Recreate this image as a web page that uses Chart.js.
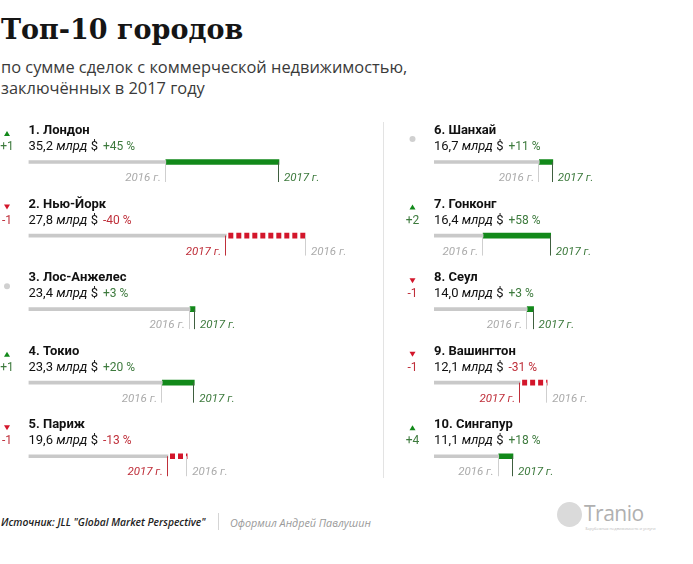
<!DOCTYPE html>
<html>
<head>
<meta charset="utf-8">
<script src="https://cdn.jsdelivr.net/npm/chart.js@4.4.1/dist/chart.umd.min.js"></script>
<style>
  body { margin: 0; width: 693px; height: 564px; background: #fff; position: relative; overflow: hidden; font-family: "Open Sans", sans-serif; }
  #title { position: absolute; left: 1px; top: 13px; font: bold 27px "DejaVu Serif", serif; line-height: 34px; color: #151515; white-space: nowrap; }
  #subtitle { position: absolute; left: 1px; top: 56px; font-size: 16.4px; line-height: 21px; color: #3a3a3a; white-space: nowrap; }
  #divider { position: absolute; left: 383px; top: 122px; width: 1px; height: 356px; background: #e3e3e3; }
  #left { position: absolute; left: 0; top: 100px; }
  #right { position: absolute; left: 380px; top: 100px; }
  #source { position: absolute; left: 1px; top: 515px; font: italic 600 10.3px "Open Sans", sans-serif; color: #222; white-space: nowrap; }
  #sep { position: absolute; left: 218px; top: 513px; width: 1px; height: 17px; background: #d5d5d5; }
  #author { position: absolute; left: 230px; top: 515px; font: italic 10.8px "Open Sans", sans-serif; color: #9a9a9a; white-space: nowrap; }
  #logoDot { position: absolute; left: 557px; top: 502px; width: 25px; height: 25px; border-radius: 50%; background: #dadada; }
  #logo { position: absolute; left: 584px; top: 499px; font: 21px "Open Sans", sans-serif; color: #b0b0b0; letter-spacing: -0.5px; }
  #tag { position: absolute; left: 585px; top: 526px; font: 4px "Open Sans", sans-serif; color: #bbb; white-space: nowrap; }
</style>
</head>
<body>
<div id="title">Топ-10 городов</div>
<div id="subtitle">по сумме сделок с коммерческой недвижимостью,<br>заключённых в 2017 году</div>
<div id="divider"></div>
<canvas id="left" width="380" height="393"></canvas>
<canvas id="right" width="313" height="393"></canvas>
<div id="source">Источник: JLL "Global Market Perspective"</div>
<div id="sep"></div>
<div id="author">Оформил Андрей Павлушин</div>
<div id="logoDot"></div>
<div id="logo">Tranio</div>
<div id="tag">Зарубежная недвижимость и услуги</div>
<script>
// data
const cities = ["Лондон", "Нью-Йорк", "Лос-Анжелес", "Токио", "Париж", "Шанхай", "Гонконг", "Сеул", "Вашингтон", "Сингапур"];
const rankShift = [1, -1, 0, 1, -1, 0, 2, -1, -1, 4];
const deals2017 = [35.2, 27.8, 23.4, 23.3, 19.6, 16.7, 16.4, 14.0, 12.1, 11.1];
const deals2016 = [19.3, 39.0, 22.7, 18.8, 22.3, 14.8, 6.9, 13.1, 15.9, 9.1];
const changePct = [45, -40, 3, 20, -13, 11, 58, 3, -31, 18];
const yearLabels = ["2016 г.", "2017 г."];

const GRAY = "#c9c9c9";
const GREEN = "#12891a";
const RED = "#d3162b";
const GREEN_TXT = "#3d7a3d";
const RED_TXT = "#bf2f3a";
const FONT = "Roboto";

function fmt(v) {
  return v.toFixed(1).replace(".", ",");
}

// red dotted segment for a fall
function redDots(ctx, startX) {
  const pc = document.createElement("canvas");
  pc.width = 8;
  pc.height = 8;
  const p = pc.getContext("2d");
  p.fillStyle = RED;
  p.fillRect(2, 0, 5, 8);
  const pat = ctx.createPattern(pc, "repeat");
  pat.setTransform(new DOMMatrix().translate(startX, 0));
  return pat;
}

const rowText = {
  id: "rowText",
  afterDatasetsDraw(chart, args, opts) {
    const ctx = chart.ctx;
    const x = chart.scales.x;
    const y = chart.scales.y;
    ctx.save();
    for (let k = 0; k < 5; k++) {
      const i = opts.start + k;
      const yc = y.getPixelForValue(k);
      const x0 = x.getPixelForValue(0);
      const x16 = x.getPixelForValue(deals2016[i]);
      const x17 = x.getPixelForValue(deals2017[i]);
      const up = deals2017[i] >= deals2016[i];

      // rank change
      const ix = x0 - 21.5;
      if (rankShift[i] === 0) {
        ctx.fillStyle = "#d0d0d0";
        ctx.beginPath();
        ctx.arc(ix, yc - 23, 3, 0, Math.PI * 2);
        ctx.fill();
      } else {
        ctx.fillStyle = rankShift[i] > 0 ? GREEN : RED;
        ctx.beginPath();
        if (rankShift[i] > 0) {
          ctx.moveTo(ix - 3, yc - 26);
          ctx.lineTo(ix + 3, yc - 26);
          ctx.lineTo(ix, yc - 31);
        } else {
          ctx.moveTo(ix - 3, yc - 31);
          ctx.lineTo(ix + 3, yc - 31);
          ctx.lineTo(ix, yc - 26);
        }
        ctx.fill();
        ctx.fillStyle = rankShift[i] > 0 ? GREEN_TXT : RED_TXT;
        ctx.font = `12px ${FONT}`;
        ctx.textAlign = "center";
        ctx.textBaseline = "alphabetic";
        ctx.fillText((rankShift[i] > 0 ? "+" : "") + rankShift[i], ix, yc - 12);
      }

      // city name
      ctx.textAlign = "left";
      ctx.fillStyle = "#111";
      ctx.font = `bold 13px ${FONT}`;
      ctx.fillText((i + 1) + ". " + cities[i], x0, yc - 28);

      // value line
      let cx = x0;
      ctx.font = `13px ${FONT}`;
      ctx.fillStyle = "#111";
      const num = fmt(deals2017[i]) + " ";
      ctx.fillText(num, cx, yc - 12);
      cx += ctx.measureText(num).width;
      ctx.font = `italic 13px ${FONT}`;
      ctx.fillText("млрд", cx, yc - 12);
      cx += ctx.measureText("млрд").width;
      ctx.font = `13px ${FONT}`;
      ctx.fillText(" $", cx, yc - 12);
      cx += ctx.measureText(" $").width + 5;
      ctx.font = `12px ${FONT}`;
      ctx.fillStyle = changePct[i] >= 0 ? GREEN_TXT : RED_TXT;
      ctx.fillText((changePct[i] > 0 ? "+" : "") + changePct[i] + " %", cx, yc - 12);

      // year ticks and labels
      ctx.lineWidth = 1;
      ctx.strokeStyle = "#cfcfcf";
      ctx.beginPath();
      ctx.moveTo(Math.round(x16) - 0.5, yc);
      ctx.lineTo(Math.round(x16) - 0.5, yc + 20);
      ctx.stroke();
      ctx.strokeStyle = up ? "#3f5f3f" : RED_TXT;
      ctx.beginPath();
      ctx.moveTo(Math.round(x17) - 0.5, yc);
      ctx.lineTo(Math.round(x17) - 0.5, yc + 20);
      ctx.stroke();

      ctx.font = `italic 11.5px ${FONT}`;
      const lo = up ? x16 : x17;
      const hi = up ? x17 : x16;
      ctx.textAlign = "right";
      ctx.fillStyle = up ? "#ababab" : RED_TXT;
      ctx.fillText(up ? yearLabels[0] : yearLabels[1], lo - 5, yc + 19);
      ctx.textAlign = "left";
      ctx.fillStyle = up ? GREEN_TXT : "#ababab";
      ctx.fillText(up ? yearLabels[1] : yearLabels[0], hi + 5, yc + 19);
    }
    ctx.restore();
  }
};

function makeChart(id, start, padLeft, padRight, xMax) {
  const idx = [0, 1, 2, 3, 4].map((k) => start + k);
  const lows = idx.map((i) => [0, Math.min(deals2016[i], deals2017[i])]);
  const changes = idx.map((i) => [Math.min(deals2016[i], deals2017[i]), Math.max(deals2016[i], deals2017[i])]);
  return new Chart(document.getElementById(id), {
    type: "bar",
    data: {
      labels: idx.map((i) => cities[i]),
      datasets: [
        {
          data: lows,
          backgroundColor: GRAY,
          barThickness: 3,
          grouped: false,
          borderSkipped: false,
        },
        {
          data: changes,
          backgroundColor: (c) => {
            const i = idx[c.dataIndex];
            if (deals2017[i] >= deals2016[i]) return GREEN;
            const sx = c.chart.scales.x ? c.chart.scales.x.getPixelForValue(deals2017[i]) : 0;
            return redDots(c.chart.ctx, sx);
          },
          barThickness: (c) => (deals2017[idx[c.dataIndex]] >= deals2016[idx[c.dataIndex]] ? 4 : 5),
          grouped: false,
          borderSkipped: false,
        },
      ],
    },
    options: {
      indexAxis: "y",
      responsive: false,
      animation: false,
      devicePixelRatio: 1,
      layout: { padding: { left: padLeft, right: padRight, top: 25.25, bottom: 0 } },
      plugins: { legend: { display: false }, tooltip: { enabled: false }, rowText: { start: start } },
      scales: {
        x: { display: false, min: 0, max: xMax },
        y: { display: false },
      },
    },
    plugins: [rowText],
  });
}

makeChart("left", 0, 28.5, 31.3, 45);
makeChart("right", 5, 54, 45.55, 30);
</script>
</body>
</html>
